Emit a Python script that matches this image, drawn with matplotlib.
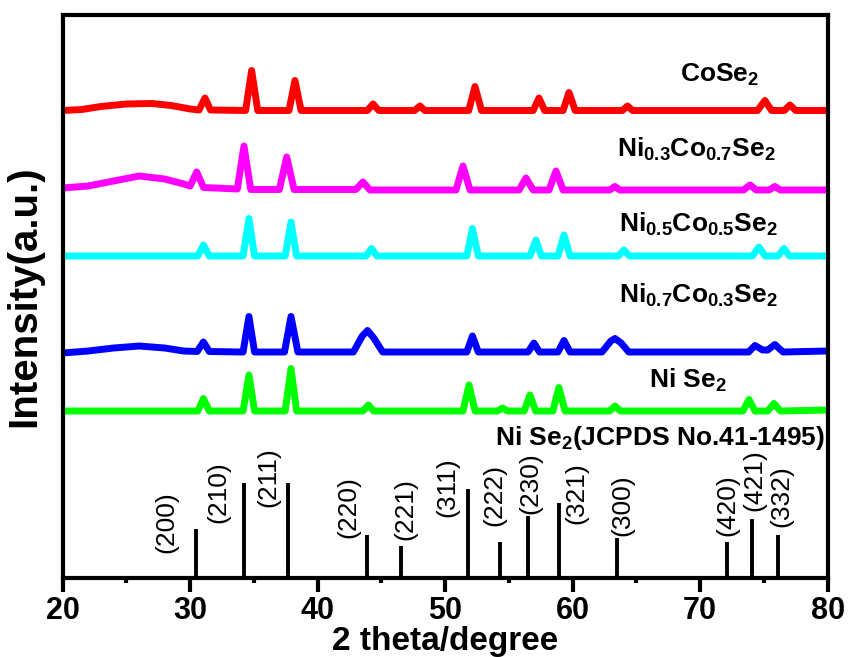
import matplotlib
matplotlib.use("Agg")
import matplotlib.pyplot as plt
from matplotlib import font_manager
import numpy as np

# patterns: 2theta (deg) and intensity above each pattern's own baseline (a.u.)
tt_cose2 = [20, 21.5, 23, 25, 27, 28.5, 30, 30.7, 31.16, 31.6, 34.35, 34.82, 35.3, 37.75, 38.22, 38.7,
            43.9, 44.34, 44.8, 47.6, 48.02, 48.4, 51.85, 52.34, 52.85, 56.9, 57.36, 57.8, 59.25, 59.71, 60.2,
            63.9, 64.3, 64.7, 74.5, 75.08, 75.6, 76.6, 77.04, 77.5, 80]
i_cose2 = [0, 1, 4, 6.5, 7, 5, 1.5, 0.5, 12.5, 0.5, 0, 40, 0, 0, 30, 0,
           0, 6.5, 0, 0, 4.5, 0, 0, 24, 0, 0, 12.5, 0, 0, 18, 0,
           0, 4.5, 0, 0, 10, 0, 0, 5.5, 0, 0]

tt_ni03 = [20, 22, 24, 26, 28, 29.5, 30.0, 30.51, 31.05, 33.7, 34.22, 34.75, 37.0, 37.57, 38.15,
           43.0, 43.55, 44.1, 50.85, 51.4, 51.95, 55.8, 56.34, 56.9, 58.15, 58.69, 59.25,
           62.9, 63.32, 63.7, 73.4, 73.91, 74.4, 75.4, 75.86, 76.3, 80]
i_ni03 = [2, 4, 9, 14, 11, 6, 4, 18, 2.5, 1, 44, 0.5, 0.5, 33, 0.5,
          0.5, 8, 0, 0, 24, 0, 0, 12, 0, 0, 19, 0,
          0, 3.5, 0, 0, 5, 0, 0, 3.5, 0, 0]

tt_ni05 = [20, 30.6, 31.04, 31.5, 34.15, 34.61, 35.05, 37.45, 37.91, 38.35, 43.8, 44.22, 44.65,
           51.7, 52.14, 52.6, 56.65, 57.12, 57.55, 58.85, 59.32, 59.8, 63.6, 64.02, 64.45,
           74.1, 74.61, 75.1, 76.1, 76.57, 77.0, 80]
i_ni05 = [0, 0, 11, 0, 0, 37.5, 0, 0, 34, 0, 0, 7.5, 0,
          0, 27.5, 0, 0, 16, 0, 0, 21, 0, 0, 6, 0,
          0, 9, 0, 0, 7.5, 0, 0]

tt_ni07 = [20, 22, 24, 26, 28, 29.5, 30.55, 31.04, 31.5, 34.15, 34.61, 35.05, 37.4, 37.91, 38.45,
           42.8, 43.5, 43.91, 44.4, 45.1, 51.7, 52.14, 52.6, 56.5, 56.96, 57.4, 58.85, 59.32, 59.8,
           62.3, 63.0, 63.32, 63.8, 64.4, 73.8, 74.3, 74.9, 75.3, 75.86, 76.5, 80]
i_ni07 = [-1, 1, 4, 6, 4, 1, 0.5, 10, 0.5, 0, 35.5, 0, 0, 35.5, 0,
          0, 16, 21.5, 14, 0, 0, 16, 0, 0, 9, 0, 0, 11.5, 0,
          0, 11, 13.5, 9, 0, 0, 6.5, 2, 2, 7.5, 0, 1]

tt_nise2 = [20, 30.6, 31.04, 31.5, 34.15, 34.61, 35.05, 37.45, 37.91, 38.35, 43.55, 43.98, 44.4,
            51.4, 51.87, 52.35, 54.1, 54.49, 54.9, 56.2, 56.65, 57.1, 58.45, 58.92, 59.4,
            62.9, 63.32, 63.75, 73.35, 73.83, 74.3, 75.3, 75.79, 76.3, 80]
i_nise2 = [0, 0, 12.5, 0, 0, 36, 0, 0, 42.5, 0, 0, 6, 0,
           0, 26, 0, 0, 3, 0, 0, 16, 0, 0, 23.5, 0,
           0, 5, 0, 0, 11.5, 0, 0, 7.5, 0, 1]

# JCPDS 41-1495 reference lines
hkl = ["(200)", "(210)", "(211)", "(220)", "(221)", "(311)", "(222)", "(230)", "(321)",
       "(300)", "(420)", "(421)", "(332)"]
ref_tt = [30.45, 34.24, 37.69, 43.84, 46.51, 51.81, 54.30, 56.47, 58.93, 63.45, 72.08, 74.09, 76.13]
ref_int = [52, 100, 100, 45, 34, 94, 38, 65, 79, 42, 38, 62, 45]

names = ["CoSe$_2$", "Ni$_{0.3}$Co$_{0.7}$Se$_2$", "Ni$_{0.5}$Co$_{0.5}$Se$_2$",
         "Ni$_{0.7}$Co$_{0.3}$Se$_2$", "Ni Se$_2$"]

avail = {f.name for f in font_manager.fontManager.ttflist}
narrow = "Liberation Sans Narrow" if "Liberation Sans Narrow" in avail else "Liberation Sans"
plt.rcParams["font.family"] = ["Liberation Sans", "DejaVu Sans"]
plt.rcParams["mathtext.default"] = "regular"

fig = plt.figure(figsize=(8.48, 6.57), dpi=100)
ax = fig.add_axes([0.0739, 0.1202, 0.9021, 0.857])

series = [(tt_cose2, i_cose2, "#FF0000", 467.5),
          (tt_ni03, i_ni03, "#FF00FF", 388),
          (tt_ni05, i_ni05, "#00FFFF", 322),
          (tt_ni07, i_ni07, "#0000FF", 226),
          (tt_nise2, i_nise2, "#00FF00", 167)]
for tt, ii, c, off in series:
    ax.plot(tt, np.array(ii) + off, color=c, lw=5, solid_joinstyle="round")

ax.vlines(ref_tt, 0, np.array(ref_int) * 0.95, color="black", lw=2.8)

# hkl labels: (x center, y center) in data units
lab_pos = [(28.1, 56), (32.2, 86), (36.1, 101), (42.4, 71), (46.85, 69), (50.2, 91),
           (53.85, 83), (56.7, 95), (60.3, 85), (63.9, 73), (72.1, 73), (74.22, 98), (76.4, 82)]
for t, (px, py) in zip(hkl, lab_pos):
    ax.text(px, py, t, rotation=90, ha="center", va="center", fontsize=19)

# sample labels
lab_xy = [(68.42, 496), (63.47, 421), (63.6, 346), (63.6, 275), (66.0, 190)]
for t, (px, py) in zip(names, lab_xy):
    ax.text(px, py, t, ha="left", va="baseline", fontsize=19, family=[narrow, "DejaVu Sans"],
            fontweight="bold")
ax.text(53.9, 133, "Ni Se$_2$(JCPDS No.41-1495)", ha="left", va="baseline", fontsize=19,
        family=[narrow, "DejaVu Sans"], fontweight="bold")

ax.set_xlim(20, 80)
ax.set_ylim(0, 563)
ax.set_xticks([20, 30, 40, 50, 60, 70, 80])
ax.set_xticks([25, 35, 45, 55, 65, 75], minor=True)
ax.set_yticks([])
ax.tick_params(axis="x", which="major", direction="out", length=10, width=3, pad=3)
ax.tick_params(axis="x", which="minor", direction="out", length=3.5, width=3)
for lb in ax.get_xticklabels():
    lb.set_family([narrow, "DejaVu Sans"])
    lb.set_fontsize(22)
    lb.set_fontweight("bold")
for s in ax.spines.values():
    s.set_linewidth(3)

ax.set_xlabel("2 theta/degree", fontsize=24, fontweight="bold", family=[narrow, "DejaVu Sans"],
              labelpad=0)
ax.set_ylabel("Intensity(a.u.)", fontsize=29, fontweight="bold")
ax.yaxis.set_label_coords(-0.026, 0.5)

fig.savefig("out.png", dpi=100)
